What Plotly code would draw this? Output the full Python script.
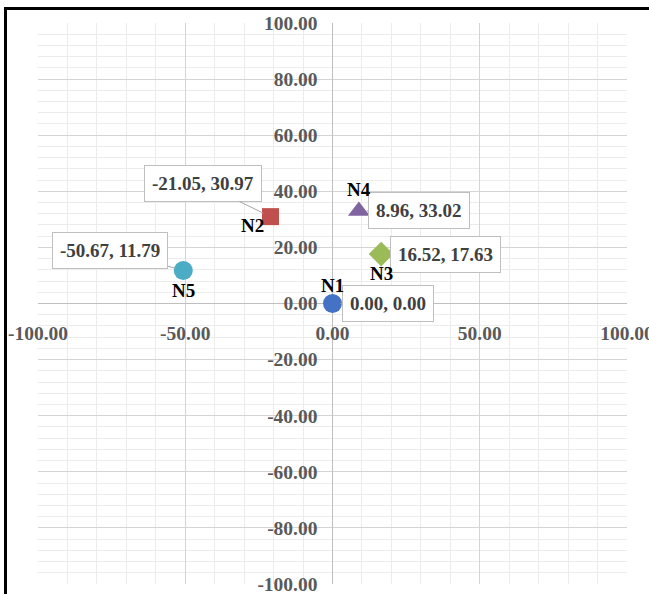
import plotly.graph_objects as go

# Node coordinates
names = ["N1", "N2", "N3", "N4", "N5"]
xs = [0.00, -21.05, 16.52, 8.96, -50.67]
ys = [0.00, 30.97, 17.63, 33.02, 11.79]

# Axis ticks
x_ticks = [-100, -50, 0, 50, 100]
x_tick_text = ["-100.00", "-50.00", "0.00", "50.00", "100.00"]
y_ticks = [-100, -80, -60, -40, -20, 0, 20, 40, 60, 80, 100]
y_tick_text = ["-100.00", "-80.00", "-60.00", "-40.00", "-20.00", "0.00",
               "20.00", "40.00", "60.00", "80.00", "100.00"]

# Marker styling per node
colors = ["#4472C4", "#C0504D", "#9BBB59", "#8064A2", "#4BACC6"]
symbols = ["circle", "square", "diamond", "triangle-up", "circle"]
sizes = [19, 17, 19, 19, 19]

# Offsets (px) of value boxes and name labels relative to each marker
box_off = [(55, 0), (-68, -33), (64, 0), (60, 0), (-73, -20)]
name_shift = [(0, 18), (-18, -9), (0, -19), (0, 21), (0, -20)]

W, H = 649, 594
ML, MR, MT, MB = 38, 22, 23, 10

SERIF = "Liberation Serif, Times New Roman, serif"

fig = go.Figure()
for i, n in enumerate(names):
    fig.add_trace(go.Scatter(
        x=[xs[i]], y=[ys[i]], mode="markers", name=n,
        marker=dict(symbol=symbols[i], size=sizes[i], color=colors[i],
                    line=dict(width=0)),
        showlegend=False, hoverinfo="skip"))

annotations = []
for i, n in enumerate(names):
    annotations.append(dict(
        x=xs[i], y=ys[i], xref="x", yref="y",
        text=f"{xs[i]:.2f}, {ys[i]:.2f}",
        showarrow=True, arrowhead=0, arrowwidth=1, arrowcolor="#a6a6a6",
        ax=box_off[i][0], ay=box_off[i][1], axref="pixel", ayref="pixel",
        standoff=8,
        font=dict(family=SERIF, size=19, color="#404040", weight="bold"),
        bgcolor="white", bordercolor="#bfbfbf", borderwidth=1, borderpad=7))
    annotations.append(dict(
        x=xs[i], y=ys[i], xref="x", yref="y", text=n, showarrow=False,
        xshift=name_shift[i][0], yshift=name_shift[i][1],
        font=dict(family=SERIF, size=19, color="black", weight="bold")))

tickfont = dict(family=SERIF, size=19.5, color="#595959", weight="bold")

fig.update_layout(
    width=W, height=H,
    margin=dict(l=ML, r=MR, t=MT, b=MB, pad=0, autoexpand=False),
    paper_bgcolor="white", plot_bgcolor="white",
    annotations=annotations,
    xaxis=dict(
        range=[-100, 100], anchor="free", position=0.5, automargin=False,
        tickmode="array", tickvals=x_ticks, ticktext=x_tick_text,
        tickfont=tickfont, ticks="", ticklabelstandoff=16,
        ticklabeloverflow="allow",
        showgrid=True, gridcolor="#d4d4d4", gridwidth=1,
        minor=dict(tickmode="linear", tick0=0, dtick=10, showgrid=True,
                   gridcolor="#ececec", gridwidth=1, ticks=""),
        zeroline=True, zerolinecolor="#bfbfbf", zerolinewidth=1,
        showline=False, fixedrange=True),
    yaxis=dict(
        range=[-100, 100], anchor="free", position=0.5, automargin=False,
        tickmode="array", tickvals=y_ticks, ticktext=y_tick_text,
        tickfont=tickfont, ticks="", ticklabelstandoff=15,
        ticklabeloverflow="allow",
        showgrid=True, gridcolor="#d4d4d4", gridwidth=1,
        minor=dict(tickmode="linear", tick0=0, dtick=4, showgrid=True,
                   gridcolor="#ececec", gridwidth=1, ticks=""),
        zeroline=True, zerolinecolor="#bfbfbf", zerolinewidth=1,
        showline=False, fixedrange=True),
)

# Chart frame: thick black border whose right/bottom edges run off the page
pw, ph = W - ML - MR, H - MT - MB
fx0 = (5.5 - ML) / pw
fy1 = 1 + (MT - 8.5) / ph
fig.add_shape(type="rect", xref="paper", yref="paper",
              x0=fx0, x1=1.2, y0=-0.2, y1=fy1,
              line=dict(color="black", width=3), fillcolor="rgba(0,0,0,0)",
              layer="above")

fig.write_html("out.html")
